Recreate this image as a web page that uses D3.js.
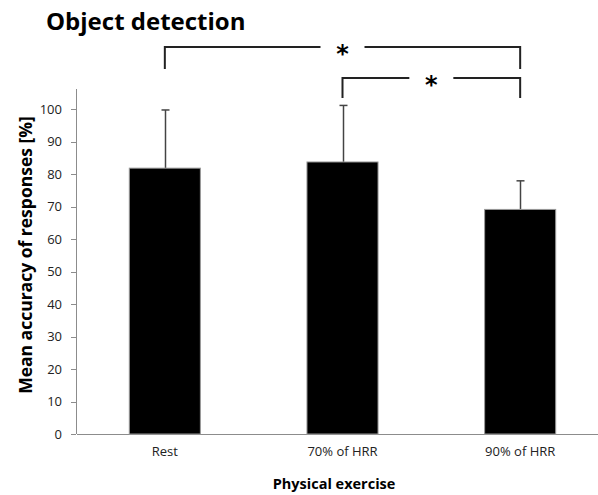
<!DOCTYPE html>
<html>
<head>
	<meta charset="utf-8">
	<style>
		body {
			margin: 0;
			background-color: white;
			font-family: "Open Sans", sans-serif;
		}
		svg {
			display: block;
		}
		.axis path, .axis line {
			stroke: #8c8c8c;
			shape-rendering: crispEdges;
		}
		.axis text {
			font-family: "Open Sans", sans-serif;
			font-size: 13px;
			fill: #222;
		}
		.bar {
			fill: #000;
			stroke: #999;
			stroke-width: 1px;
		}
		.err {
			stroke: #444;
			stroke-width: 1.5px;
		}
		.bracket {
			fill: none;
			stroke: #222;
			stroke-width: 2px;
		}
		.star {
			font-family: "DejaVu Sans", sans-serif;
			font-size: 24px;
			font-weight: bold;
		}
		.title {
			font-size: 24px;
			font-weight: bold;
		}
		.axis-label {
			font-weight: bold;
		}
	</style>
</head>
<body>
<script src="https://d3js.org/d3.v7.min.js"></script>
<script>
	var categories = ["Rest", "70% of HRR", "90% of HRR"];
	var means = [81.8, 83.7, 69.1];
	var sds = [17.9, 17.4, 8.8];
	var yTicks = [0, 10, 20, 30, 40, 50, 60, 70, 80, 90, 100];
	// significance brackets: [from, to, level]
	var sigPairs = [[0, 2, 0], [1, 2, 1]];

	var width = 598, height = 495;
	var margin = {top: 109, right: -11, bottom: 61, left: 76};

	var svg = d3.select("body").append("svg")
			.attr("width", width)
			.attr("height", height);

	var xScale = d3.scaleBand()
			.domain(categories)
			.range([margin.left, width - margin.right])
			.paddingInner(0.6)
			.paddingOuter(0.3);
	var yScale = d3.scaleLinear()
			.domain([0, 100])
			.range([height - margin.bottom, margin.top]);

	svg.append("text")
			.attr("class", "title")
			.attr("x", 46)
			.attr("y", 30)
			.text("Object detection");

	// axes
	var yAxis = d3.axisLeft(yScale)
			.tickValues(yTicks)
			.tickSize(5)
			.tickPadding(9)
			.tickSizeOuter(0);
	svg.append("g")
			.attr("class", "y axis")
			.attr("transform", "translate(" + margin.left + ",0)")
			.call(yAxis);
	svg.select(".y.axis path").attr("d", "M0," + (yScale(0)) + "V" + (yScale(100) - 20));

	var xAxis = d3.axisBottom(xScale)
			.tickSize(0)
			.tickPadding(13);
	svg.append("g")
			.attr("class", "x axis")
			.attr("transform", "translate(0," + yScale(0) + ")")
			.call(xAxis);

	// error bars (upper only)
	var errs = svg.append("g");
	categories.forEach(function(c, i) {
		var cx = Math.round(xScale(c) + xScale.bandwidth() / 2) + 0.5;
		errs.append("line").attr("class", "err")
				.attr("x1", cx).attr("x2", cx)
				.attr("y1", yScale(means[i])).attr("y2", yScale(means[i] + sds[i]));
		errs.append("line").attr("class", "err")
				.attr("x1", cx - 4).attr("x2", cx + 4)
				.attr("y1", yScale(means[i] + sds[i])).attr("y2", yScale(means[i] + sds[i]));
	});

	// bars
	svg.append("g").selectAll("rect")
			.data(categories)
		.enter().append("rect")
			.attr("class", "bar")
			.attr("x", function(d) { return xScale(d); })
			.attr("y", function(d, i) { return yScale(means[i]); })
			.attr("width", xScale.bandwidth())
			.attr("height", function(d, i) { return yScale(0) - yScale(means[i]); });

	// significance brackets
	var bracketY = [47, 78], bracketDrop = [22, 20];
	sigPairs.forEach(function(p) {
		var x1 = xScale(categories[p[0]]) + xScale.bandwidth() / 2;
		var x2 = xScale(categories[p[1]]) + xScale.bandwidth() / 2;
		var y = bracketY[p[2]], drop = bracketDrop[p[2]];
		var mid = (x1 + x2) / 2;
		var gap = 22;
		svg.append("path").attr("class", "bracket")
				.attr("d", "M" + x1 + "," + (y + drop) + "V" + y + "H" + (mid - gap));
		svg.append("path").attr("class", "bracket")
				.attr("d", "M" + (mid + gap) + "," + y + "H" + x2 + "V" + (y + drop));
		svg.append("text").attr("class", "star")
				.attr("x", mid)
				.attr("y", y + 15)
				.attr("text-anchor", "middle")
				.text("*");
	});

	// axis titles
	svg.append("text")
			.attr("class", "axis-label")
			.attr("text-anchor", "middle")
			.attr("font-size", 17.5)
			.attr("transform", "translate(32,255) rotate(-90)")
			.text("Mean accuracy of responses [%]");
	svg.append("text")
			.attr("class", "axis-label")
			.attr("text-anchor", "middle")
			.attr("font-size", 14.5)
			.attr("x", 334)
			.attr("y", 489)
			.text("Physical exercise");
</script>
</body>
</html>
